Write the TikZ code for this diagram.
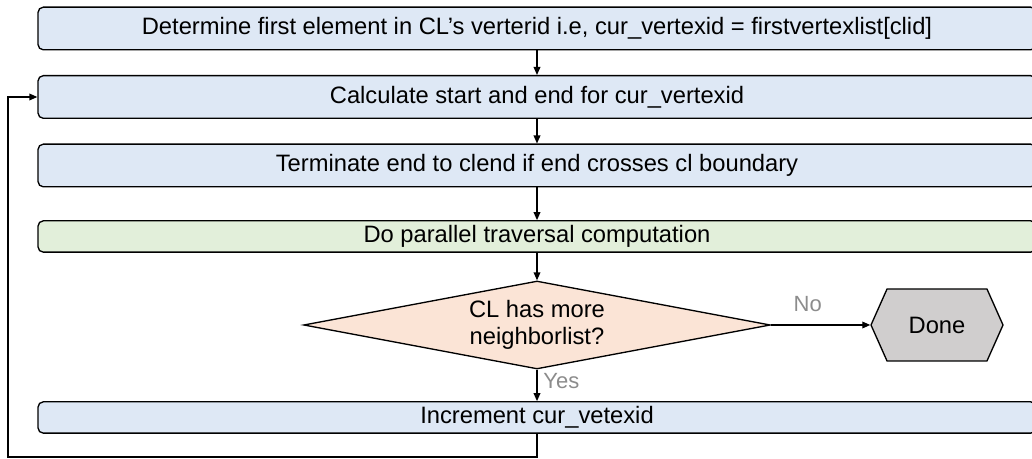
\documentclass[tikz,border=0pt]{standalone}
\usepackage{fontspec}
\setmainfont{Liberation Sans}
\usetikzlibrary{arrows.meta,shapes.geometric,shapes.symbols}
\definecolor{boxblue}{HTML}{DEE8F5}
\definecolor{boxgreen}{HTML}{E2EFDA}
\definecolor{condpeach}{HTML}{FBE4D6}
\definecolor{donegrey}{HTML}{D0CECE}
\definecolor{lblgrey}{HTML}{8C8C8C}
\tikzset{
	stepbox/.style={draw, line width=1pt, rounded corners=4pt, fill=boxblue, minimum width=748.5pt, inner sep=0pt},
	tallbox/.style={stepbox, minimum height=32pt},
	flatbox/.style={stepbox, minimum height=23.5pt},
	flow/.style={line width=1pt, -{Triangle[length=6pt, width=5pt]}},
	lbl/.style={text=lblgrey, font=\fontsize{16.5}{19}\selectfont}
}
\begin{document}
\begin{tikzpicture}[x=0.75pt, y=-0.75pt, font=\fontsize{17.8}{20}\selectfont]
	\useasboundingbox (0,0) rectangle (1032,459);
	
	\node[tallbox] (det)  at (537, 28.5) {Determine first element in CL’s verterid i.e, cur\_vertexid = firstvertexlist[clid]};
	\node[tallbox] (calc) at (537, 97)   {Calculate start and end for cur\_vertexid};
	\node[tallbox] (term) at (537,165.5) {Terminate end to clend if end crosses cl boundary};
	\node[flatbox, fill=boxgreen] (trav) at (537,236.5) {Do parallel traversal computation};
	\node[draw, line width=1pt, diamond, shape aspect=5.3, fill=condpeach, align=center, inner sep=0pt,
		minimum width=350pt, minimum height=66pt] (cond) at (537,325) {CL has more\\neighborlist?};
	\node[draw, line width=1pt, signal, signal to=east and west, signal pointer angle=132,
		fill=donegrey, minimum width=99pt, minimum height=54pt, inner sep=0pt] (done) at (937,325) {Done};
	\node[flatbox] (inc)  at (537,417.5) {Increment cur\_vetexid};
	\coordinate (loop) at (8,457);
	
	\draw[flow] (det)  -- (calc);
	\draw[flow] (calc) -- (term);
	\draw[flow] (term) -- (trav);
	\draw[flow] (trav) -- (cond);
	\draw[flow] (cond.east)  -- node[lbl, pos=0.37, above=6pt]{No} (done.west);
	\draw[flow] (cond.south) -- node[lbl, pos=0.35, right=1pt]{Yes} (inc.north);
	\draw[flow] (inc.south) -- (inc.south |- loop) -- (loop) |- (calc.west);
\end{tikzpicture}
\end{document}
